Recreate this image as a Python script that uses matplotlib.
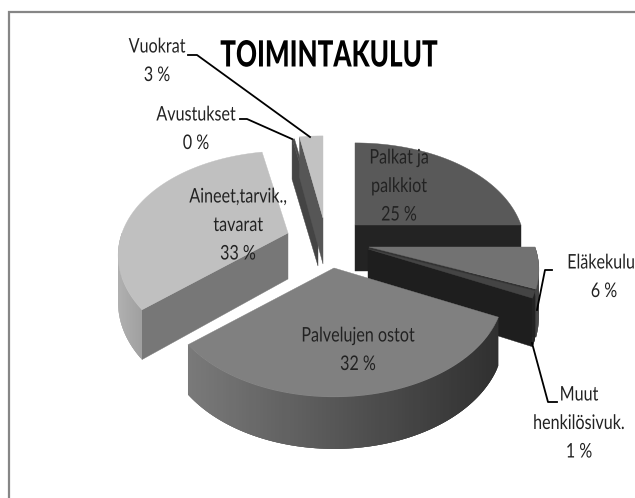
import matplotlib
matplotlib.use("Agg")
import matplotlib.pyplot as plt
import matplotlib.patheffects as path_effects
from matplotlib.colors import to_rgb
from matplotlib.patches import Polygon
from matplotlib.transforms import Affine2D
import numpy as np

plt.rcParams['font.family'] = ['Lato', 'DejaVu Sans']

title = 'TOIMINTAKULUT'
names = ['Palkat ja\npalkkiot', 'Eläkekulut', 'Muut\nhenkilösivuk.', 'Palvelujen ostot',
         'Aineet,tarvik.,\ntavarat', 'Avustukset', 'Vuokrat']
values = [25, 6, 1, 32, 32.8, 0.3, 2.9]

# look of each slice, same order as values
top_colors = ['#595959', '#727272', '#444444', '#808080', '#c0c0c0', '#4a4a4a', '#c2c2c2']
start_wall = [None, None, None, None, '#777777', '#444444', '#565656']
end_wall = ['#232323', '#333333', '#1e1e1e', None, None, None, None]
outer_left = ['#232323', '#444444', '#222222', '#7a7a7a', '#b0b0b0', '#444444', '#565656']
outer_right = ['#232323', '#444444', '#222222', '#303030', '#a0a0a0', '#444444', '#565656']
apex_x = [355, 369, 368, 334, 288, 318, 323]
apex_y = [225, 247, 249, 268, 233, 220, 218]
draw_order = [5, 6, 0, 4, 1, 2, 3]

# label placement, text centre in pixels
label_x = [399, 604, 579, 358, 238, 196, 157]
label_y = [158, 263, 395, 336, 197, 115, 47]
line_gap = 28.5

leader_x = [None, [552, 545, 537], [532, 548, 557], None, None, [240, 247, 292], [188, 197, 310]]
leader_y = [None, [270, 270, 310], [343, 402, 402], None, None, [119, 119, 139], [55, 55, 137]]

RX, RY, PERSP, DEPTH = 166, 105.5, 0.222, 46


# the reference font is a condensed one, so narrow the glyphs around the text centre
class Squeeze(path_effects.AbstractPathEffect):
    def __init__(self, cx, sx):
        super().__init__()
        self.cx = cx
        self.sx = sx

    def draw_path(self, renderer, gc, tpath, affine, rgbFace=None):
        squeeze = Affine2D().translate(-self.cx, 0).scale(self.sx, 1).translate(self.cx, 0)
        renderer.draw_path(gc, tpath, affine + squeeze, rgbFace)


def project(theta, ax_, ay_):
    u, v = np.sin(theta), -np.cos(theta)
    s = 1 + PERSP * v
    return ax_ + RX * u * s, ay_ + RY * v * s, DEPTH * (1 + 0.13 * v)


def draw_wall(ax, theta, ax_, ay_, color, z):
    x, y, d = project(theta, ax_, ay_)
    pts = [(ax_, ay_), (x, y), (x, y + d), (ax_, ay_ + DEPTH)]
    ax.add_patch(Polygon(pts, closed=True, fc=color, ec=color, lw=0.3, zorder=z))


def draw_slice(ax, i, t0, t1, z):
    ax_, ay_ = apex_x[i], apex_y[i]
    if start_wall[i]:
        draw_wall(ax, t0, ax_, ay_, start_wall[i], z)
    if end_wall[i]:
        draw_wall(ax, t1, ax_, ay_, end_wall[i], z)

    # outer wall, only the part turned to the viewer, shaded from left to right
    lo, hi = max(t0, np.pi / 2), min(t1, 3 * np.pi / 2)
    if hi > lo:
        n = 100
        ts = np.linspace(lo, hi, n + 1)
        c_right, c_left = np.array(to_rgb(outer_right[i])), np.array(to_rgb(outer_left[i]))
        xs, ys, ds = project(ts, ax_, ay_)
        span = xs.max() - xs.min()
        for k in range(n):
            # each quad reaches over the next one so no seams show
            e = min(k + 3, n)
            f = (xs[k] - xs.min()) / span if span else 0
            col = c_left + (c_right - c_left) * f
            pts = [(xs[k], ys[k]), (xs[e], ys[e]), (xs[e], ys[e] + ds[e]), (xs[k], ys[k] + ds[k])]
            ax.add_patch(Polygon(pts, closed=True, fc=col, ec='none', zorder=z))

    ts = np.linspace(t0, t1, 80)
    xs, ys, _ = project(ts, ax_, ay_)
    pts = [(ax_, ay_)] + list(zip(xs, ys))
    ax.add_patch(Polygon(pts, closed=True, fc=top_colors[i], ec=top_colors[i], lw=0.3, zorder=z + 0.5))


def put_text(ax, x, y, s, sx, **kw):
    t = ax.text(x, y, s, ha='center', va='center', zorder=20, **kw)
    cx = ax.transData.transform((x, y))[0]
    t.set_path_effects([Squeeze(cx, sx)])


fig = plt.figure(figsize=(6.35, 4.98), dpi=100)
ax = fig.add_axes([0, 0, 1, 1])
ax.set_xlim(0, 635)
ax.set_ylim(498, 0)
ax.axis('off')

# chart frame, runs off the picture on the right and at the bottom
ax.plot([9, 9, 635], [498, 12, 12], color='#868686', lw=1.6, solid_joinstyle='miter', zorder=1)

edges = np.concatenate([[0], np.cumsum(values)]) / np.sum(values) * 2 * np.pi
for z, i in enumerate(draw_order):
    draw_slice(ax, i, edges[i], edges[i + 1], 2 + z)

for lx, ly in zip(leader_x, leader_y):
    if lx:
        ax.plot(lx, ly, color='black', lw=1.3, zorder=15)

for i, name in enumerate(names):
    lines = name.split('\n') + [f'{round(values[i])} %']
    for j, line in enumerate(lines):
        put_text(ax, label_x[i], label_y[i] + j * line_gap, line, 0.8, fontsize=14.5, color='#222222')

put_text(ax, 329, 56, title, 0.72, fontsize=26, fontweight=900, color='black')

fig.savefig('out.png', dpi=100)
